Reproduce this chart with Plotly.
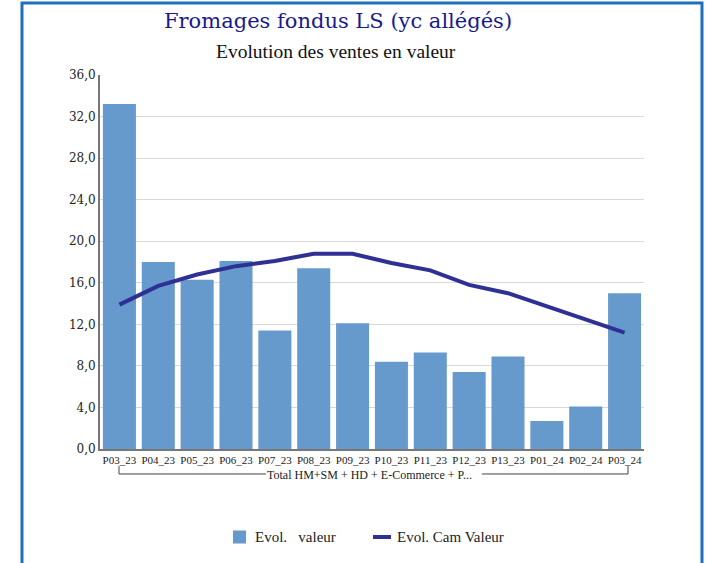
import plotly.graph_objects as go

# data
periods = ["P03_23", "P04_23", "P05_23", "P06_23", "P07_23", "P08_23", "P09_23",
           "P10_23", "P11_23", "P12_23", "P13_23", "P01_24", "P02_24", "P03_24"]
evol_valeur = [33.2, 18.0, 16.3, 18.1, 11.4, 17.4, 12.1, 8.4, 9.3, 7.4, 8.9, 2.7, 4.1, 15.0]
evol_cam_valeur = [13.9, 15.7, 16.8, 17.6, 18.1, 18.8, 18.8, 17.9, 17.2, 15.8, 15.0, 13.7, 12.4, 11.2]

serif = "Liberation Serif, DejaVu Serif, serif"
wide_serif = "DejaVu Serif, Liberation Serif, serif"
bar_color = "#6699CC"
line_color = "#2E3094"
frame_color = "#1F6FBF"
txt = "#222222"

fig = go.Figure()

fig.add_trace(go.Bar(
    x=periods, y=evol_valeur,
    name="Evol.  valeur",
    marker=dict(color=bar_color, line=dict(width=0)),
    showlegend=False,
))
fig.add_trace(go.Scatter(
    x=periods, y=evol_cam_valeur,
    name="Evol. Cam Valeur",
    mode="lines",
    line=dict(color=line_color, width=4),
    showlegend=False,
))

shapes = [
    # frame round the whole chart
    dict(type="rect", xref="paper", yref="paper",
         x0=-0.1434, x1=1.1066, y0=-0.4, y1=1.1925,
         line=dict(color=frame_color, width=3), layer="below"),
    # category group bracket
    dict(type="path", xref="paper", yref="paper",
         path="M 0.0349,-0.0455 L 0.0349,-0.0668 L 0.305,-0.0668",
         line=dict(color="#444444", width=1)),
    dict(type="path", xref="paper", yref="paper",
         path="M 0.702,-0.0668 L 0.9706,-0.0668 L 0.9706,-0.0455",
         line=dict(color="#444444", width=1)),
    # legend symbols
    dict(type="rect", xref="paper", yref="paper",
         x0=0.2445, x1=0.2684, y0=-0.2527, y1=-0.2179,
         fillcolor=bar_color, line=dict(width=0)),
    dict(type="line", xref="paper", yref="paper",
         x0=0.5018, x1=0.5349, y0=-0.2353, y1=-0.2353,
         line=dict(color=line_color, width=4)),
]

annotations = [
    dict(text="Fromages fondus LS (yc allégés)", xref="paper", yref="paper",
         x=0.4375, y=1.144, xanchor="center", yanchor="middle", showarrow=False,
         font=dict(size=21, family=wide_serif, color="#1A1A8C")),
    dict(text="Evolution des ventes en valeur", xref="paper", yref="paper",
         x=0.434, y=1.064, xanchor="center", yanchor="middle", showarrow=False,
         font=dict(size=19.5, family=serif, color="#111111")),
    dict(text="Total HM+SM + HD + E-Commerce + P...", xref="paper", yref="paper",
         x=0.496, y=-0.0695, xanchor="center", yanchor="middle", showarrow=False,
         font=dict(size=12, family=serif, color=txt)),
    dict(text="Evol.&nbsp;&nbsp; valeur", xref="paper", yref="paper",
         x=0.2812, y=-0.2353, xanchor="left", yanchor="middle", showarrow=False,
         font=dict(size=15, family=serif, color=txt)),
    dict(text="Evol. Cam Valeur", xref="paper", yref="paper",
         x=0.5423, y=-0.2353, xanchor="left", yanchor="middle", showarrow=False,
         font=dict(size=15, family=serif, color=txt)),
]

fig.update_layout(
    width=706, height=563,
    margin=dict(l=100, r=62, t=75, b=114),
    paper_bgcolor="white",
    plot_bgcolor="white",
    font=dict(family=serif, color=txt),
    bargap=0.15,
    shapes=shapes,
    annotations=annotations,
    showlegend=False,
    separators=", ",
)

fig.update_xaxes(
    showline=True, linecolor="#777777", linewidth=2,
    ticks="", tickfont=dict(size=11, family=serif, color=txt),
    tickangle=0,
)
fig.update_yaxes(
    range=[0, 36], dtick=4, tickformat=".1f",
    showline=True, linecolor="#777777", linewidth=2,
    gridcolor="#D9D9D9", gridwidth=1,
    zeroline=False,
    tickfont=dict(size=12, family=wide_serif, color=txt),
)

fig.write_html("out.html", config={"displayModeBar": False},
               post_script="document.body.style.margin='0';")
